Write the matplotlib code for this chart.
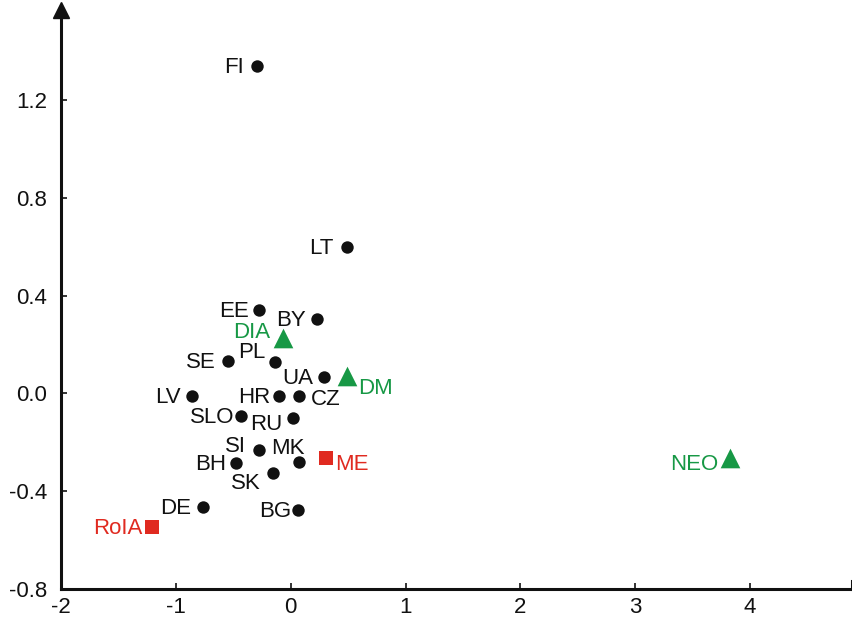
import matplotlib
matplotlib.use("Agg")
import matplotlib.pyplot as plt

plt.rcParams['font.family'] = ['Liberation Sans', 'DejaVu Sans']

# Data
countries = ["FI", "LT", "EE", "BY", "SE", "PL", "UA", "LV", "HR", "CZ", "SLO", "RU",
             "SI", "MK", "BH", "SK", "DE", "BG"]
country_x = [-0.296, 0.487, -0.278, 0.226, -0.548, -0.139, 0.287, -0.861, -0.104, 0.070,
             -0.435, 0.017, -0.278, 0.070, -0.478, -0.157, -0.765, 0.061]
country_y = [1.339, 0.599, 0.341, 0.304, 0.133, 0.128, 0.067, -0.011, -0.011, -0.011,
             -0.092, -0.101, -0.231, -0.281, -0.285, -0.326, -0.465, -0.477]

green_labels = ["DIA", "DM", "NEO"]
green_x = [-0.070, 0.487, 3.826]
green_y = [0.227, 0.071, -0.264]

red_labels = ["ME", "RoIA"]
red_x = [0.304, -1.209]
red_y = [-0.264, -0.546]

x_ticks = [-2, -1, 0, 1, 2, 3, 4]
y_ticks = [-0.8, -0.4, 0.0, 0.4, 0.8, 1.2]
y_tick_labels = ["-0.8", "-0.4", "0.0", "0.4", "0.8", "1.2"]

# label offsets (points) and alignment
offsets = {
    "FI": (-9.4, 0, "right"),
    "LT": (-9.4, 0, "right"),
    "EE": (-7.2, 0, "right"),
    "BY": (-8, 0, "right"),
    "SE": (-8.6, 0, "right"),
    "PL": (-6.5, 8.0, "right"),
    "UA": (-7.2, 0, "right"),
    "LV": (-8, 0, "right"),
    "HR": (-5.8, 0, "right"),
    "CZ": (8.6, -1.4, "left"),
    "SLO": (-4.3, 0, "right"),
    "RU": (-7.2, -3.6, "right"),
    "SI": (-9.4, 3.6, "right"),
    "MK": (-8, 10.8, "center"),
    "BH": (-7.2, 0, "right"),
    "SK": (-8.6, -6.5, "right"),
    "DE": (-8.6, 0, "right"),
    "BG": (-5, 0, "right"),
    "DIA": (-8.6, 5.0, "right"),
    "DM": (8.6, -8, "left"),
    "NEO": (-8.6, -3.6, "right"),
    "ME": (7.2, -3.6, "left"),
    "RoIA": (-6.5, 0, "right"),
}

GREEN = "#179845"
RED = "#e02a20"
FS = 16

fig = plt.figure(figsize=(8.53, 6.2), dpi=100)
ax = fig.add_axes([61 / 853, 31 / 620, (852 - 61) / 853, (610 - 31) / 620])

ax.set_xlim(-2.0, 4.887)
ax.set_ylim(-0.8, 1.568)

ax.scatter(country_x, country_y, s=80, c="#111111", marker="o", zorder=3, linewidths=0)
ax.scatter(green_x, green_y, s=200, c=GREEN, marker="^", zorder=3, linewidths=0)
ax.scatter(red_x, red_y, s=115, c=RED, marker="s", zorder=3, linewidths=0)

def label(names, xs, ys, color):
    for lab, x, y in zip(names, xs, ys):
        dx, dy, ha = offsets[lab]
        ax.annotate(lab, (x, y), xytext=(dx, dy - 1.3), textcoords="offset points",
                    ha=ha, va="center", fontsize=FS, color=color)

label(countries, country_x, country_y, "#111111")
label(green_labels, green_x, green_y, GREEN)
label(red_labels, red_x, red_y, RED)

for s in ["top", "right"]:
    ax.spines[s].set_visible(False)
for s in ["left", "bottom"]:
    ax.spines[s].set_linewidth(2.2)
    ax.spines[s].set_color("#111111")

ax.set_xticks(x_ticks)
ax.set_xticklabels([str(v) for v in x_ticks])
ax.set_yticks(y_ticks)
ax.set_yticklabels(y_tick_labels)
ax.tick_params(direction="in", length=4, width=1.2, labelsize=FS, colors="#111111")
ax.tick_params(axis="y", pad=10)
ax.tick_params(axis="x", pad=6)

# arrow head on top of y axis
ax.plot([0], [1.0], marker="^", markersize=12, color="#111111",
        transform=ax.transAxes, clip_on=False, zorder=5)
# end bar on x axis
ax.plot([1.0, 1.0], [0, 0.014], color="#111111", lw=2.2, transform=ax.transAxes, clip_on=False)

fig.savefig("out.png", dpi=100)
